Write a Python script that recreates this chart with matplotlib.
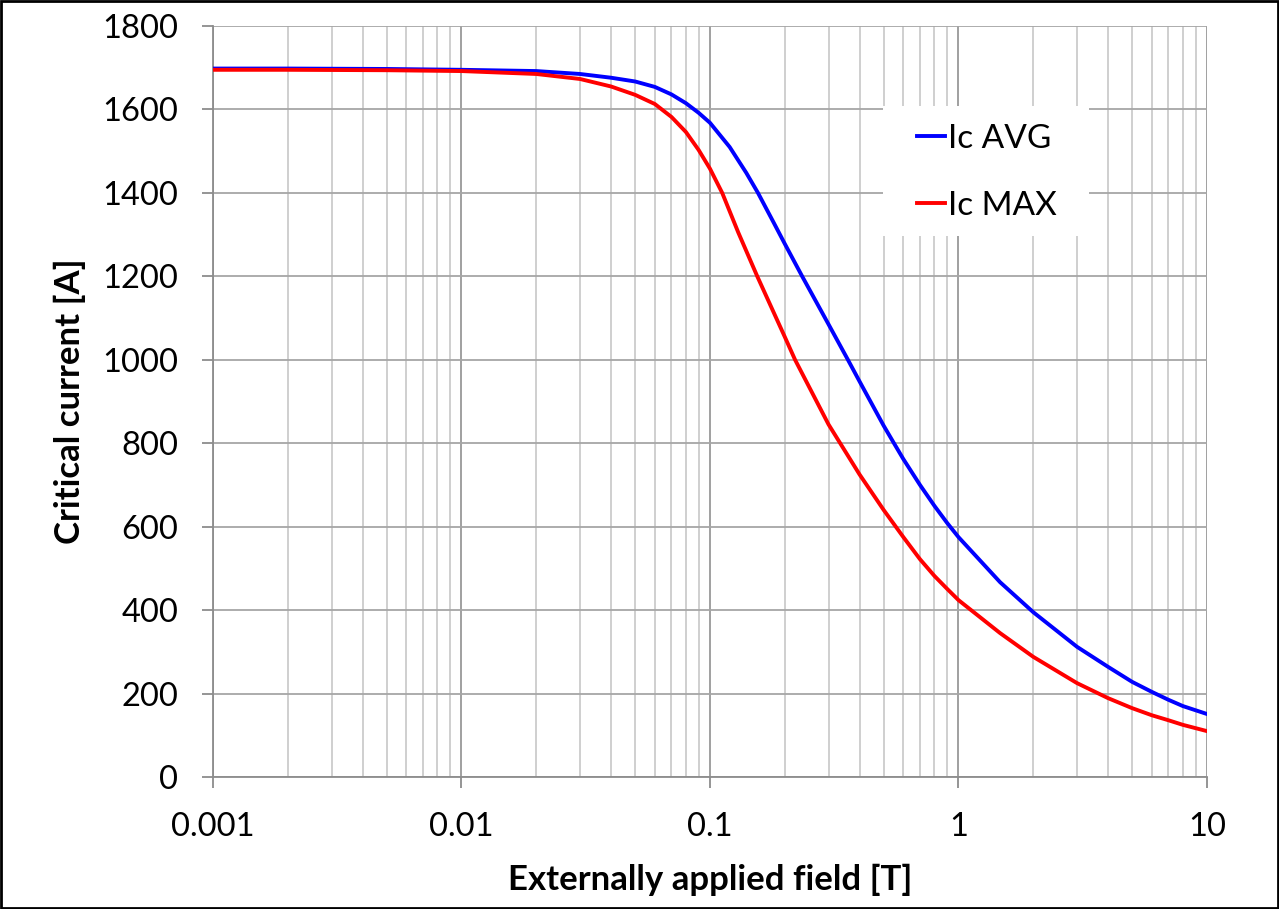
import numpy as np
import matplotlib.pyplot as plt
from matplotlib.patches import Rectangle

# values
field_avg = [0.001, 0.002, 0.005, 0.01, 0.02, 0.03, 0.04, 0.05, 0.06, 0.07, 0.08, 0.09,
             0.1, 0.12, 0.14, 0.156, 0.18, 0.2, 0.235, 0.3, 0.359, 0.4, 0.5, 0.55, 0.6, 0.7,
             0.8, 0.9, 1.0, 1.47, 2.0, 3.0, 4.0, 5.0, 6.0, 7.0, 8.0, 10.0]
ic_avg = [1698, 1698, 1697, 1695, 1692, 1685, 1676, 1667, 1654, 1636, 1615, 1592,
          1568, 1510, 1448, 1400, 1330, 1278, 1200, 1085, 1000, 948, 842, 800, 762, 700,
          650, 609, 575, 467, 395, 312, 264, 228, 204, 185, 170, 151]

field_max = [0.001, 0.002, 0.005, 0.01, 0.02, 0.03, 0.04, 0.05, 0.06, 0.07, 0.08, 0.09,
             0.1, 0.112, 0.13, 0.155, 0.2, 0.22, 0.3, 0.4, 0.5, 0.6, 0.7, 0.8, 0.9,
             1.0, 1.47, 2.0, 3.0, 4.0, 5.0, 6.0, 7.0, 8.0, 10.0]
ic_max = [1695, 1695, 1694, 1692, 1685, 1673, 1655, 1635, 1613, 1582, 1546, 1503,
          1458, 1400, 1305, 1200, 1055, 1000, 845, 725, 640, 575, 522, 482, 451,
          424, 345, 288, 225, 189, 165, 148, 136, 125, 110]

yticks = np.arange(0, 1801, 200)
xticks = [0.001, 0.01, 0.1, 1, 10]
xticklabels = ['0.001', '0.01', '0.1', '1', '10']

plt.rcParams['font.family'] = ['Lato', 'DejaVu Sans']

fig = plt.figure(figsize=(12.79, 9.09), dpi=100)
ax = fig.add_axes([0.1665, 0.1452, 0.7772, 0.8262])

ax.plot(field_avg, ic_avg, color='#0000ff', lw=2.8, label='Ic AVG', zorder=4)
ax.plot(field_max, ic_max, color='#ff0000', lw=2.8, label='Ic MAX', zorder=4)

ax.set_xscale('log')
ax.set_xlim(0.001, 10)
ax.set_ylim(0, 1800)
ax.set_yticks(yticks)
ax.set_xticks(xticks)
ax.set_xticklabels(xticklabels)
ax.minorticks_on()
ax.yaxis.set_minor_locator(plt.NullLocator())

ax.grid(True, which='major', axis='y', color='#a6a6a6', lw=1.3)
ax.grid(True, which='major', axis='x', color='#999999', lw=1.3)
ax.grid(True, which='minor', axis='x', color='#cccccc', lw=1.3)
ax.set_axisbelow(True)

for s in ['top', 'right']:
    ax.spines[s].set_visible(False)
for s in ['left', 'bottom']:
    ax.spines[s].set_color('#8c8c8c')
    ax.spines[s].set_linewidth(1.3)

ax.tick_params(axis='both', which='major', direction='out', length=8, width=1.3,
               color='#8c8c8c', labelsize=23.5, pad=17)
ax.tick_params(axis='x', which='minor', length=0)

ax.set_xlabel('Externally applied field [T]', fontsize=25, fontweight='bold', labelpad=16)
ax.set_ylabel('Critical current [A]', fontsize=25, fontweight='bold', labelpad=12)

# white legend box covering the grid
ax.add_patch(Rectangle((0.674, 0.72), 0.207, 0.174, transform=ax.transAxes,
                       facecolor='white', edgecolor='none', zorder=3))
ax.legend(loc='upper left', bbox_to_anchor=(0.708, 0.8695), frameon=False, fontsize=24,
          handlelength=0.85, handletextpad=0.1, labelspacing=1.1, borderpad=0,
          borderaxespad=0)

fig.patches.append(Rectangle((0.001, 0.001), 0.998, 0.998, transform=fig.transFigure,
                             fill=False, edgecolor='black', lw=2))

fig.savefig('out.png', dpi=100)
